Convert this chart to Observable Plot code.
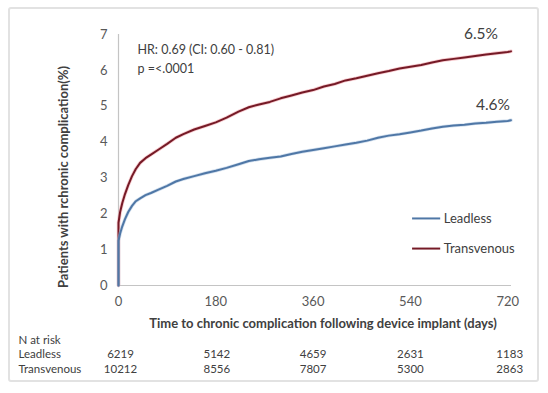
<!DOCTYPE html>
<html><head><meta charset="utf-8">
<script src="https://cdn.jsdelivr.net/npm/d3@7"></script>
<script src="https://cdn.jsdelivr.net/npm/@observablehq/plot@0.6"></script>
<style>
body{margin:0;background:#fff;}
#wrap{position:relative;width:548px;height:393px;overflow:hidden;}
#border{position:absolute;left:8px;top:7px;width:527px;height:371px;border:2px solid #e2e2e2;border-radius:3px;pointer-events:none;}
</style></head><body><div id="wrap"><div id="border"></div></div>
<script>
const days = [0,0,3,7,12,18,25,32,40,50,60,75,90,106,120,140,160,180,200,222,241,260,280,300,320,340,360,380,400,420,440,460,480,500,520,540,560,580,600,620,640,660,680,700,720,726];
const transvenousPct = [0,1.75,2.05,2.3,2.55,2.8,3.05,3.25,3.42,3.55,3.65,3.8,3.95,4.12,4.22,4.35,4.45,4.55,4.68,4.85,4.97,5.05,5.12,5.22,5.3,5.38,5.45,5.55,5.62,5.72,5.78,5.85,5.92,5.98,6.05,6.1,6.15,6.22,6.28,6.32,6.36,6.4,6.44,6.48,6.51,6.53];
const leadlessPct = [0,1.25,1.45,1.65,1.85,2.05,2.22,2.35,2.43,2.52,2.58,2.68,2.78,2.9,2.97,3.05,3.13,3.2,3.28,3.38,3.47,3.52,3.56,3.6,3.67,3.73,3.78,3.83,3.88,3.93,3.98,4.04,4.12,4.18,4.22,4.27,4.32,4.38,4.43,4.46,4.48,4.52,4.54,4.57,4.59,4.61];
const xTicks = [0,180,360,540,720];
const yTicks = [0,1,2,3,4,5,6,7];
const riskLeadless = [6219,5142,4659,2631,1183];
const riskTransvenous = [10212,8556,7807,5300,2863];
const seriesNames = ["Leadless","Transvenous"];
const seriesColors = ["#4f77a6","#751a26"];
const endLabels = ["4.6%","6.5%"];
const xTitle = "Time to chronic complication following device implant (days)";
const yTitle = "Patients with rchronic complication(%)";
const annotation = "HR: 0.69 (CI: 0.60 - 0.81)\np =<.0001";

const leadless = days.map((d,i)=>({d, v: leadlessPct[i]}));
const transvenous = days.map((d,i)=>({d, v: transvenousPct[i]}));
const last = days.length-1;

// layout constants (legend placement in data space, table column nudges in px)
const legend = [{name:seriesNames[0], c:seriesColors[0], y:1.87},{name:seriesNames[1], c:seriesColors[1], y:1.03}];
const colDx = [2,1,0,0,2];
const txt = "#404040";

const riskMarks = [];
xTicks.forEach((t,i)=>{
  riskMarks.push(Plot.text([riskLeadless[i]],{x:()=>t, y:()=>0, text:d=>String(d), dx:colDx[i], dy:69, fontSize:11.5, fill:txt}));
  riskMarks.push(Plot.text([riskTransvenous[i]],{x:()=>t, y:()=>0, text:d=>String(d), dx:colDx[i], dy:84, fontSize:11.5, fill:txt}));
});

const plot = Plot.plot({
  width:548, height:393,
  marginLeft:118, marginRight:37, marginTop:34, marginBottom:108,
  style:{fontFamily:"Lato, 'Open Sans', sans-serif", color:"#595959", background:"transparent", overflow:"visible"},
  x:{domain:[0,727]},
  y:{domain:[0,7]},
  marks:[
    Plot.ruleY([0],{stroke:"#c4c4c4", strokeWidth:1.2}),
    Plot.ruleX([0],{y1:0, y2:7, stroke:"#c4c4c4", strokeWidth:1.2}),
    Plot.axisX({ticks:xTicks, tickSize:0, tickPadding:11, fontSize:13, label:null, tickFormat:d=>String(d)}),
    Plot.axisY({ticks:yTicks, tickSize:0, tickPadding:11, fontSize:13, label:null, tickFormat:d=>String(d)}),
    Plot.line(transvenous,{x:"d", y:"v", stroke:"#f0a0a8", strokeWidth:3.6, strokeOpacity:0.55}),
    Plot.line(transvenous,{x:"d", y:"v", stroke:seriesColors[1], strokeWidth:2}),
    Plot.line(leadless,{x:"d", y:"v", stroke:"#a9c2de", strokeWidth:3.4, strokeOpacity:0.55}),
    Plot.line(leadless,{x:"d", y:"v", stroke:seriesColors[0], strokeWidth:2}),
    Plot.text([transvenous[last]],{x:"d", y:"v", text:()=>endLabels[1], textAnchor:"end", dx:-13, dy:-17, fontSize:15.5, fill:txt}),
    Plot.text([leadless[last]],{x:"d", y:"v", text:()=>endLabels[0], textAnchor:"end", dx:-1, dy:-15, fontSize:15.5, fill:txt}),
    Plot.text([annotation],{frameAnchor:"top-left", dx:19, dy:6, lineAnchor:"top", lineHeight:1.5, fontSize:12.5, fill:txt}),
    Plot.ruleY(legend,{y:"y", x1:()=>544, x2:()=>596, stroke:"c", strokeWidth:2}),
    Plot.text(legend,{x:()=>596, y:"y", text:"name", textAnchor:"start", dx:3, fontSize:13, fill:txt}),
    Plot.text([xTitle],{frameAnchor:"bottom", lineAnchor:"middle", dx:8, dy:38, fontWeight:"bold", fontSize:13, fill:txt}),
    Plot.text([yTitle],{frameAnchor:"left", textAnchor:"middle", lineAnchor:"middle", rotate:-90, dx:-55, dy:17, fontWeight:"bold", fontSize:13, fill:txt}),
    Plot.text(["N at risk"],{frameAnchor:"bottom-left", textAnchor:"start", lineAnchor:"middle", dx:-100, dy:55, fontSize:11.5, fill:txt}),
    Plot.text([seriesNames[0]],{frameAnchor:"bottom-left", textAnchor:"start", lineAnchor:"middle", dx:-100, dy:69, fontSize:11.5, fill:txt}),
    Plot.text([seriesNames[1]],{frameAnchor:"bottom-left", textAnchor:"start", lineAnchor:"middle", dx:-100, dy:84, fontSize:11.5, fill:txt}),
    ...riskMarks
  ]
});
document.getElementById("wrap").prepend(plot);
</script>
</body></html>
